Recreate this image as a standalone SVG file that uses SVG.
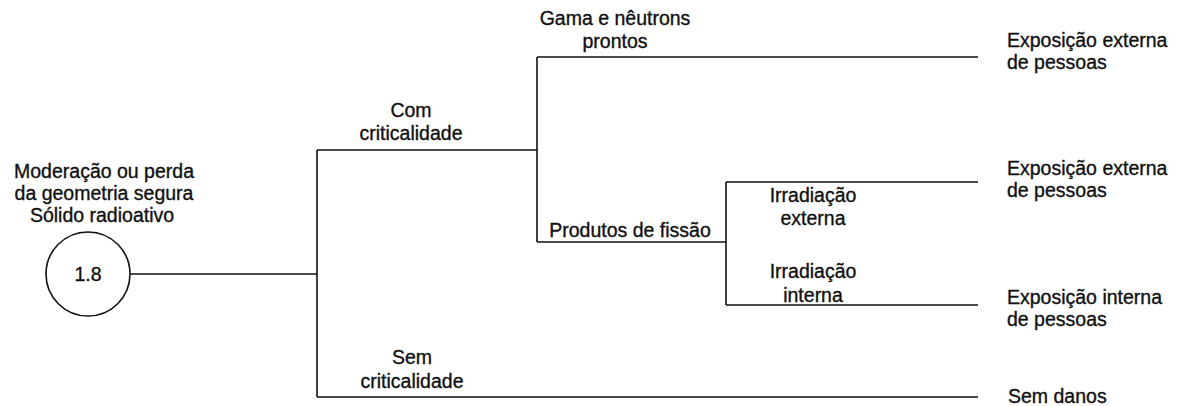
<svg xmlns="http://www.w3.org/2000/svg" width="1177" height="406" viewBox="0 0 1177 406">
<style>
text{font-family:"Liberation Sans",Arial,sans-serif;font-size:19.5px;fill:#111;stroke:#111;stroke-width:0.35}
.c{text-anchor:middle}
.l{text-anchor:start}
.ln{fill:none;stroke:#111;stroke-width:1.6}
</style>
<rect width="1177" height="406" fill="#fff"/>
<g id="connectors">
<path class="ln" d="M130,274 H317"/>
<path class="ln" d="M317,150 V397"/>
<path class="ln" d="M317,150 H537"/>
<path class="ln" d="M537,57 V242"/>
<path class="ln" d="M537,57 H978"/>
<path class="ln" d="M537,242 H726"/>
<path class="ln" d="M726,182 V305"/>
<path class="ln" d="M726,182 H978"/>
<path class="ln" d="M726,305 H978"/>
<path class="ln" d="M317,397 H978"/>
</g>
<g id="node-start">
<text class="c" x="104" y="178">Moderação ou perda</text>
<text class="c" x="104" y="200">da geometria segura</text>
<text class="c" x="102" y="222">Sólido radioativo</text>
<circle cx="88" cy="274" r="42" fill="#fff" stroke="#111" stroke-width="1.6"/>
<text class="c" x="88" y="281">1.8</text>
</g>
<g id="label-com">
<text class="c" x="411" y="117">Com</text>
<text class="c" x="411" y="140">criticalidade</text>
</g>
<g id="label-gama">
<text class="c" x="615" y="25">Gama e nêutrons</text>
<text class="c" x="615" y="48">prontos</text>
</g>
<g id="label-produtos">
<text class="c" x="630" y="237">Produtos de fissão</text>
</g>
<g id="label-irr-ext">
<text class="c" x="813" y="202">Irradiação</text>
<text class="c" x="813" y="225">externa</text>
</g>
<g id="label-irr-int">
<text class="c" x="813" y="278">Irradiação</text>
<text class="c" x="813" y="302">interna</text>
</g>
<g id="label-sem">
<text class="c" x="412" y="364">Sem</text>
<text class="c" x="412" y="388">criticalidade</text>
</g>
<g id="outcome-1">
<text class="l" x="1007" y="47">Exposição externa</text>
<text class="l" x="1007" y="69">de pessoas</text>
</g>
<g id="outcome-2">
<text class="l" x="1007" y="175">Exposição externa</text>
<text class="l" x="1007" y="197">de pessoas</text>
</g>
<g id="outcome-3">
<text class="l" x="1007" y="304">Exposição interna</text>
<text class="l" x="1007" y="326">de pessoas</text>
</g>
<g id="outcome-4">
<text class="l" x="1008" y="403">Sem danos</text>
</g>
</svg>
